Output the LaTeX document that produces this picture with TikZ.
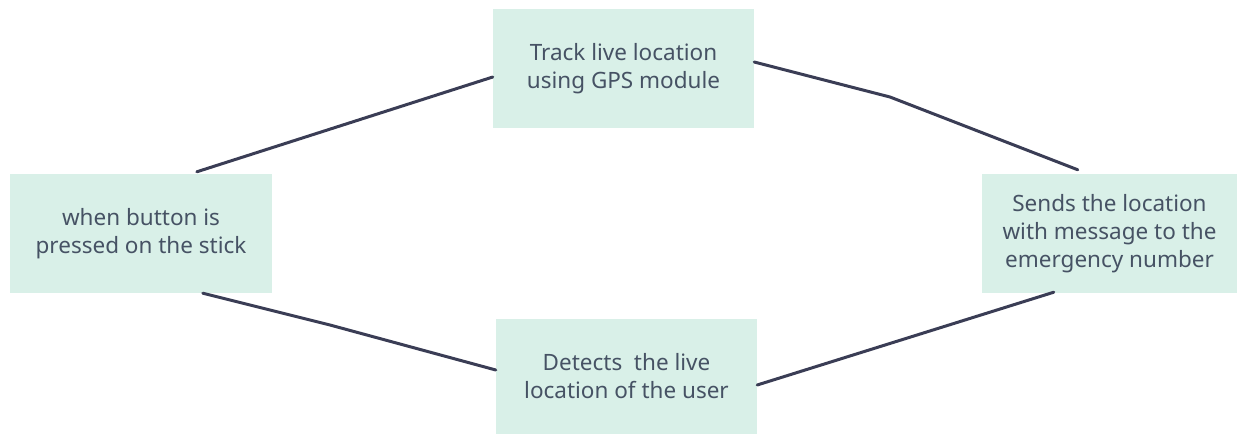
\documentclass[tikz,border=0pt]{standalone}
\usepackage{fontspec}
\setmainfont{Noto Sans}
\definecolor{boxfill}{HTML}{D9F0E8}
\definecolor{txt}{HTML}{465264}
\definecolor{ln}{HTML}{3A3D55}
\begin{document}
\begin{tikzpicture}[x=1pt,y=-1pt,
  box/.style={fill=boxfill,draw=none,inner sep=0pt,align=center,text=txt,
    font=\fontsize{22.5}{28}\selectfont},
  conn/.style={draw=ln,line width=3pt,line cap=round}]
\useasboundingbox (0,0) rectangle (1237,434);
\node[box,minimum width=261pt,minimum height=119pt] (T) at (623.5,68.5) {Track live location\\using GPS module};
\node[box,minimum width=262pt,minimum height=119pt] (L) at (141,233.5) {when button is\\pressed on the stick};
\node[box,minimum width=255pt,minimum height=119pt] (R) at (1109.5,233.5) {Sends the location\\with message to the\\emergency number};
\node[box,minimum width=261pt,minimum height=115pt] (B) at (626.5,376.5) {Detects\ \ the live\\location of the user};
\coordinate (tr) at (890,97);
\coordinate (bl) at (330,325);
\draw[conn] ([xshift=187pt,yshift=2pt]L.north west) -- ([yshift=-8.5pt]T.west);
\draw[conn] ([yshift=6.5pt]T.east) -- (tr) -- ([xshift=96pt,yshift=4pt]R.north west);
\draw[conn] ([xshift=193pt]L.south west) -- (bl) -- ([yshift=6.5pt]B.west);
\draw[conn] ([yshift=-8.5pt]B.east) -- ([xshift=72pt,yshift=1pt]R.south west);
\end{tikzpicture}
\end{document}
